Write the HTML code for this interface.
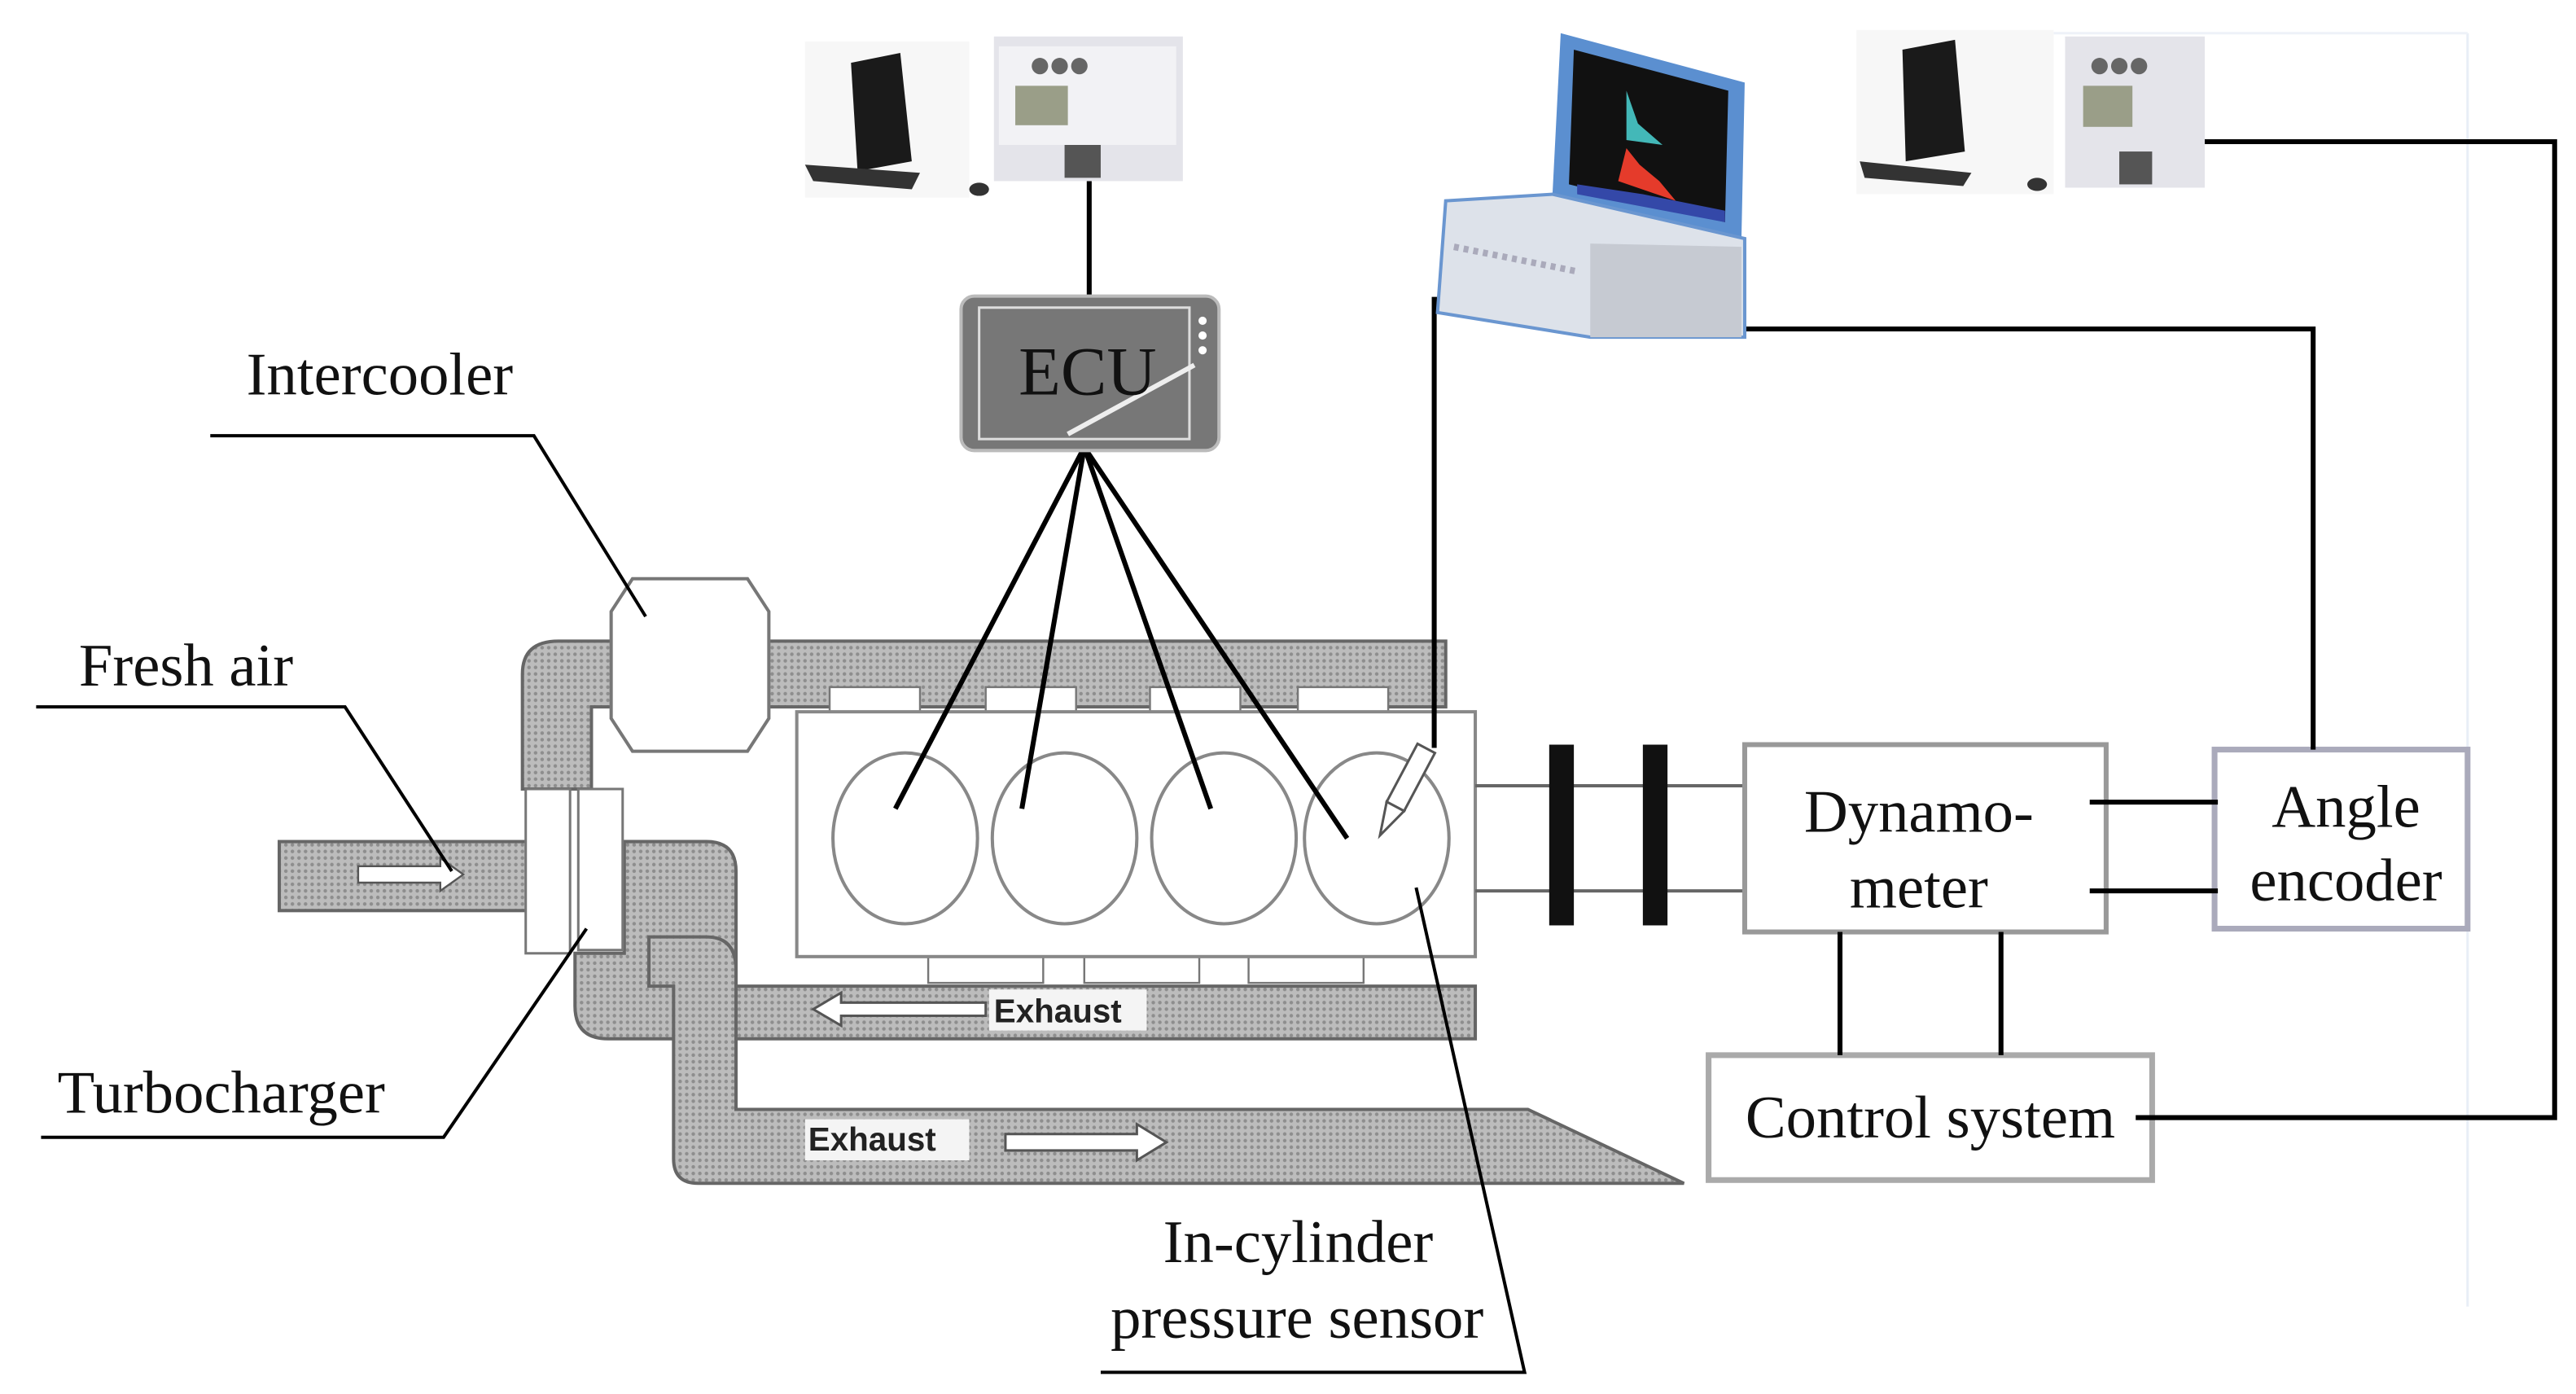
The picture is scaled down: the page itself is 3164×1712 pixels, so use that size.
<!DOCTYPE html>
<html><head><meta charset="utf-8"><style>
html,body{margin:0;padding:0;background:#fff;}
svg{display:block;}
text{font-family:"Liberation Serif",serif;fill:#111;}
.ex{font-family:"Liberation Sans",sans-serif;font-weight:bold;fill:#222;}
</style></head><body>
<svg width="3164" height="1712" viewBox="0 0 1568 848" xmlns="http://www.w3.org/2000/svg">
<defs>
<pattern id="dots" width="4" height="4" patternUnits="userSpaceOnUse">
<rect width="4" height="4" fill="#bcbcbc"/><circle cx="2" cy="2" r="1.1" fill="#8e8e8e"/>
</pattern>
</defs>
<rect width="1568" height="848" fill="#fff"/>
<line x1="1502" y1="20" x2="1502" y2="795" stroke="#e8eef6" stroke-width="1.5"/>
<line x1="1250" y1="20" x2="1502" y2="20" stroke="#eef2f8" stroke-width="1.5"/>

<g fill="url(#dots)" stroke="#666" stroke-width="2">
<rect x="170" y="512" width="160" height="42"/>
<path d="M318 480 L318 410 Q318 390 340 390 L880 390 L880 430 L360 430 L360 480 Z"/>
<path d="M380 512 L430 512 Q448 512 448 530 L448 600 L898 600 L898 632 L370 632 Q350 632 350 612 L350 580 L380 580 Z"/>
<path d="M395 570 L430 570 Q448 570 448 590 L448 675 L930 675 L1025 720 L425 720 Q410 720 410 705 L410 600 L395 600 Z"/>
</g>
<g fill="#fff" stroke="#777" stroke-width="1.2">
<rect x="505" y="418" width="55" height="16"/><rect x="600" y="418" width="55" height="16"/><rect x="700" y="418" width="55" height="16"/><rect x="790" y="418" width="55" height="16"/>
<rect x="565" y="582" width="70" height="16"/><rect x="660" y="582" width="70" height="16"/><rect x="760" y="582" width="70" height="16"/>
</g>
<polygon points="385,352 455,352 468,372 468,437 455,457 385,457 372,437 372,372" fill="#fff" stroke="#777" stroke-width="2"/>
<rect x="320" y="480" width="27" height="100" fill="#fff" stroke="#777" stroke-width="1.5"/>
<rect x="352" y="480" width="27" height="98" fill="#fff" stroke="#777" stroke-width="1.5"/>
<rect x="485" y="433" width="413" height="149" fill="#fff" stroke="#888" stroke-width="2"/>
<g fill="none" stroke="#888" stroke-width="2">
<ellipse cx="551" cy="510" rx="44" ry="52"/><ellipse cx="648" cy="510" rx="44" ry="52"/>
<ellipse cx="745" cy="510" rx="44" ry="52"/><ellipse cx="838" cy="510" rx="44" ry="52"/>
</g>
<path d="M495 614 L512 604 L512 610 L600 610 L600 618 L512 618 L512 624 Z" fill="#fff" stroke="#555" stroke-width="1.5"/>
<rect x="602" y="602" width="96" height="25" fill="#f4f4f4"/>
<text class="ex" x="605" y="622" font-size="20">Exhaust</text>
<rect x="490" y="681" width="100" height="25" fill="#f4f4f4"/>
<text class="ex" x="492" y="700" font-size="20">Exhaust</text>
<path d="M612 690 L692 690 L692 684 L710 695 L692 706 L692 700 L612 700 Z" fill="#fff" stroke="#555" stroke-width="1.5"/>
<path d="M218 527 L268 527 L268 522 L282 532 L268 542 L268 537 L218 537 Z" fill="#fff" stroke="#555" stroke-width="1.2"/>
<line x1="898" y1="478" x2="1062" y2="478" stroke="#666" stroke-width="2"/>
<line x1="898" y1="542" x2="1062" y2="542" stroke="#666" stroke-width="2"/>
<rect x="943" y="453" width="15" height="110" fill="#111"/>
<rect x="1000" y="453" width="15" height="110" fill="#111"/>
<rect x="1062" y="453" width="220" height="114" fill="#fff" stroke="#999" stroke-width="3"/>
<text x="1168" y="506" font-size="37" text-anchor="middle">Dynamo-</text>
<text x="1168" y="552" font-size="37" text-anchor="middle">meter</text>
<rect x="1348" y="456" width="154" height="109" fill="#fff" stroke="#aab" stroke-width="3.5"/>
<text x="1428" y="503" font-size="37" text-anchor="middle">Angle</text>
<text x="1428" y="548" font-size="37" text-anchor="middle">encoder</text>
<rect x="1040" y="642" width="270" height="76" fill="#fff" stroke="#aaa" stroke-width="3.5"/>
<text x="1175" y="692" font-size="37" text-anchor="middle">Control system</text>
<g stroke="#000" stroke-width="3" fill="none">
<line x1="1272" y1="488" x2="1350" y2="488"/><line x1="1272" y1="542" x2="1350" y2="542"/>
<line x1="1120" y1="567" x2="1120" y2="642"/><line x1="1218" y1="567" x2="1218" y2="642"/>
<polyline points="1342,86 1555,86 1555,680 1300,680"/>
<polyline points="968,200 1408,200 1408,456"/>
<polyline points="910,182 873,182 873,455"/>
<line x1="663" y1="110" x2="663" y2="183"/>
<line x1="660" y1="272" x2="545" y2="492"/><line x1="660" y1="272" x2="622" y2="492"/>
<line x1="660" y1="272" x2="737" y2="492"/><line x1="660" y1="272" x2="820" y2="510"/>
</g>
<g transform="rotate(28 855 480)" fill="#fff" stroke="#555" stroke-width="1.5">
<rect x="849" y="452" width="12" height="40"/><polygon points="849,492 861,492 855,512"/>
</g>
<g stroke="#000" stroke-width="2" fill="none">
<polyline points="128,265 325,265 393,375"/>
<polyline points="22,430 210,430 275,530"/>
<polyline points="25,692 270,692 357,565"/>
<polyline points="670,835 928,835 862,540"/>
</g>
<text x="150" y="240" font-size="37">Intercooler</text>
<text x="48" y="417" font-size="37">Fresh air</text>
<text x="35" y="677" font-size="37">Turbocharger</text>
<text x="708" y="768" font-size="37">In-cylinder</text>
<text x="676" y="814" font-size="37">pressure sensor</text>
<rect x="585" y="180" width="157" height="94" rx="8" fill="#777" stroke="#bbb" stroke-width="2"/>
<rect x="596" y="187" width="128" height="80" fill="none" stroke="#ddd" stroke-width="1.5"/>
<circle cx="732" cy="195" r="2.5" fill="#fff"/><circle cx="732" cy="204" r="2.5" fill="#fff"/><circle cx="732" cy="213" r="2.5" fill="#fff"/>
<line x1="650" y1="264" x2="727" y2="222" stroke="#eee" stroke-width="3"/>
<text x="662" y="240" font-size="42" text-anchor="middle">ECU</text>
<g>
<rect x="490" y="25" width="100" height="95" fill="#f7f7f7"/>
<polygon points="518,38 548,32 555,98 522,104" fill="#1a1a1a"/>
<polygon points="490,100 560,105 555,115 495,110" fill="#333"/>
<ellipse cx="596" cy="115" rx="6" ry="4" fill="#333"/>
<rect x="605" y="22" width="115" height="88" fill="#e4e4ea"/>
<rect x="608" y="28" width="108" height="60" fill="#f2f2f5"/>
<circle cx="633" cy="40" r="5" fill="#666"/><circle cx="645" cy="40" r="5" fill="#666"/><circle cx="657" cy="40" r="5" fill="#666"/>
<rect x="618" y="52" width="32" height="24" fill="#9a9e88"/>
<rect x="648" y="88" width="22" height="20" fill="#555"/>
</g>
<g>
<rect x="1130" y="18" width="120" height="100" fill="#f7f7f7"/>
<polygon points="1158,30 1190,24 1196,92 1160,98" fill="#1a1a1a"/>
<polygon points="1132,98 1200,105 1195,113 1135,108" fill="#333"/>
<ellipse cx="1240" cy="112" rx="6" ry="4" fill="#333"/>
<rect x="1257" y="22" width="85" height="92" fill="#e4e4ea"/>
<circle cx="1278" cy="40" r="5" fill="#666"/><circle cx="1290" cy="40" r="5" fill="#666"/><circle cx="1302" cy="40" r="5" fill="#666"/>
<rect x="1268" y="52" width="30" height="25" fill="#9a9e88"/>
<rect x="1290" y="92" width="20" height="20" fill="#555"/>
</g>
<g>
<polygon points="950,20 1062,50 1060,145 945,118" fill="#5b8fd0"/>
<polygon points="958,30 1052,55 1050,135 955,112" fill="#111"/>
<path d="M985 110 L990 90 L998 100 L1010 110 L1020 122 Z" fill="#e53b2b"/>
<path d="M990 55 L997 75 L1012 88 L990 85 Z" fill="#43b8b8"/>
<path d="M960 118 L1050 135 L1050 128 L1000 118 L960 112 Z" fill="#3448a8"/>
<polygon points="880,122 945,118 1062,145 1062,205 968,205 875,190" fill="#dde2ea" stroke="#6a96d0" stroke-width="2"/>
<polygon points="968,148 1060,150 1060,205 968,205" fill="#c6cad2"/>
<line x1="885" y1="150" x2="960" y2="165" stroke="#aab" stroke-width="4" stroke-dasharray="3,3"/>
</g>
</svg>
</body></html>
